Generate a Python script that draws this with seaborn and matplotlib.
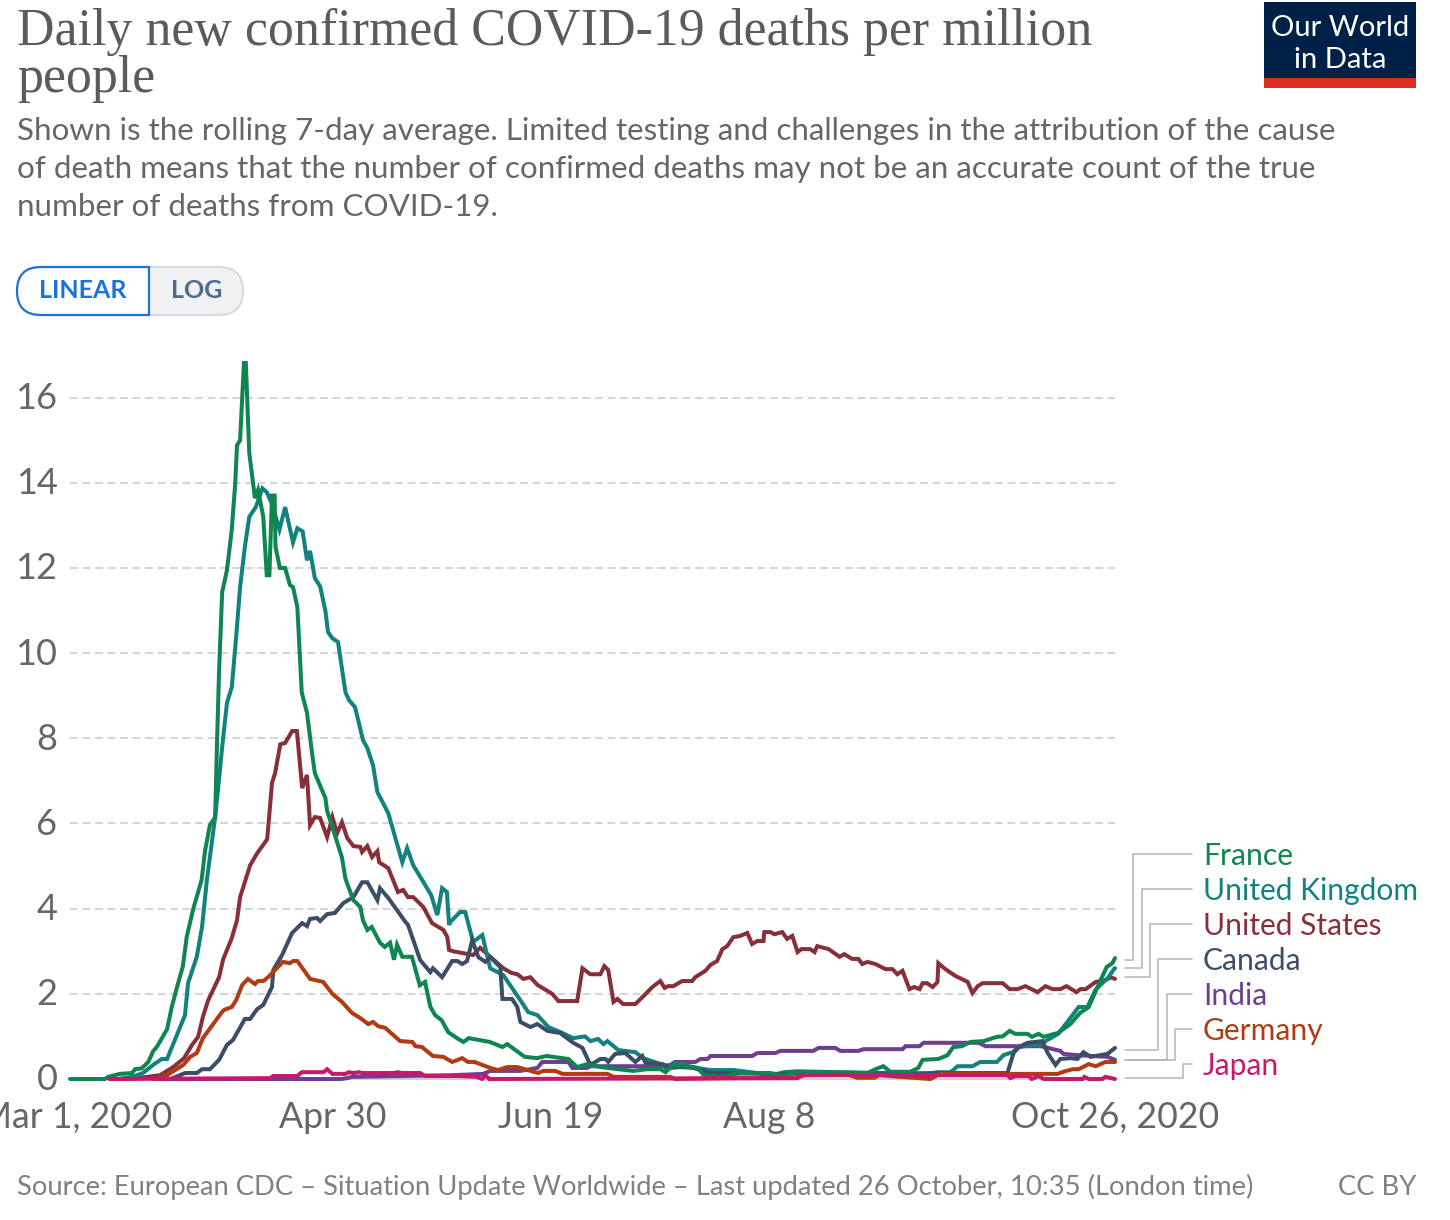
#!/usr/bin/env python3
"""Daily new confirmed COVID-19 deaths per million people (Our World in Data style)."""

import matplotlib

matplotlib.use("Agg")

import matplotlib.pyplot as plt
import matplotlib.transforms as mtrans
import pandas as pd
import seaborn as sns
from matplotlib.patches import FancyBboxPatch, PathPatch, Rectangle
from matplotlib.path import Path

# days since Mar 1, 2020 / deaths per million at the line's corners
france_days = [0, 8, 8.7, 11.4, 14.2, 14.9, 16.4, 17.9, 19, 19.9, 22.2, 23.3, 24.4, 25.8, 26.7, 28.2, 30.1, 30.9, 32, 33.2, 33.6, 34.1, 34.8, 35.9, 37, 37.8, 38.2, 38.9, 39.8, 40.2, 41, 42.3, 43, 44.2, 45, 45.6, 46.2, 46.8, 47, 48, 49.2, 50.3, 51, 52, 53, 54.2, 55.3, 56, 58.4, 58.8, 60.2, 62.2, 63, 64.8, 66.4, 67, 68, 69, 70.9, 72, 73.2, 74.1, 74.8, 76, 78.2, 80, 81.2, 82.4, 83.5, 85, 86.5, 88.8, 90, 91.2, 96, 98.9, 100, 104, 106.8, 109, 114, 116, 118.3, 121.3, 128.8, 132, 135, 136.2, 138, 143.5, 144.9, 148.7, 153.3, 160.2, 163, 164.8, 166.4, 182.4, 184.2, 186, 187.6, 192.2, 194, 195, 198.6, 200.7, 202, 204, 206, 209, 212, 213.3, 214.9, 216.2, 219, 220, 221.5, 222.7, 225.9, 228.8, 231, 233, 235, 237.1, 238.4, 239]
france_vals = [0, 0, 0.05, 0.12, 0.14, 0.23, 0.25, 0.4, 0.65, 0.76, 1.17, 1.7, 2.13, 2.64, 3.34, 4.0, 4.67, 5.37, 5.96, 6.15, 7.8, 9.6, 11.43, 11.95, 12.9, 14.0, 14.88, 15.0, 16.85, 16.85, 14.7, 13.64, 13.83, 13.2, 11.83, 11.83, 13.7, 13.7, 12.5, 12.0, 12.0, 11.6, 11.55, 11.08, 9.08, 8.6, 7.7, 7.18, 6.6, 6.3, 5.85, 5.2, 4.7, 4.2, 4.04, 3.73, 3.5, 3.57, 3.2, 3.1, 3.2, 2.8, 3.15, 2.87, 2.87, 2.2, 2.28, 1.7, 1.5, 1.38, 1.1, 0.94, 0.87, 0.96, 0.87, 0.75, 0.82, 0.52, 0.49, 0.54, 0.47, 0.28, 0.35, 0.28, 0.19, 0.23, 0.23, 0.16, 0.33, 0.26, 0.1, 0.05, 0.14, 0.14, 0.07, 0.14, 0.17, 0.14, 0.23, 0.3, 0.17, 0.17, 0.26, 0.45, 0.47, 0.56, 0.75, 0.77, 0.87, 0.89, 0.99, 1.0, 1.13, 1.06, 1.06, 0.99, 1.06, 0.99, 1.08, 1.29, 1.55, 1.69, 2.16, 2.63, 2.72, 2.84]

uk_days = [11, 14.2, 16.7, 19, 21, 22.2, 24, 26.3, 27, 29, 30.2, 31.3, 33.2, 34.3, 34.8, 35.9, 37, 38, 38.9, 40, 41, 42.5, 44, 45, 46.2, 47.9, 49.2, 51, 52, 53.2, 54.2, 54.9, 56, 57.2, 58.4, 59, 60, 61.3, 63, 63.8, 65.2, 67, 68, 69.3, 70.3, 72.8, 76, 77.1, 78.5, 82.6, 84, 85.1, 86.2, 86.7, 87, 89.2, 90.4, 92.2, 94.3, 96.1, 99.1, 103, 104.8, 106.9, 109.4, 112.6, 115.1, 117.8, 119, 120.8, 122, 122.9, 125.4, 129.3, 131.1, 135.7, 136.6, 138, 143.5, 146.5, 149.4, 151.7, 157.2, 160.9, 163.2, 166, 196, 198.4, 201.4, 203, 206.4, 208.2, 212, 213.5, 215.6, 217, 222, 223.6, 226, 228.1, 230.7, 232.7, 234.5, 236.1, 237.5, 238.9, 239]
uk_vals = [0, 0.05, 0.14, 0.33, 0.47, 0.47, 0.92, 1.5, 2.25, 2.87, 3.57, 4.67, 6.15, 7.25, 7.8, 8.83, 9.2, 10.38, 11.55, 12.5, 13.2, 13.43, 13.87, 13.78, 13.5, 12.9, 13.43, 12.6, 12.93, 12.86, 12.18, 12.4, 11.76, 11.57, 11.0, 10.5, 10.35, 10.26, 9.08, 8.9, 8.73, 7.96, 7.77, 7.37, 6.74, 6.24, 5.09, 5.42, 5.02, 4.32, 3.85, 4.48, 4.39, 3.62, 3.69, 3.92, 3.92, 3.22, 3.38, 2.6, 2.44, 1.85, 1.57, 1.5, 1.22, 1.08, 0.96, 1.0, 0.89, 0.94, 0.82, 0.89, 0.68, 0.63, 0.49, 0.33, 0.21, 0.38, 0.26, 0.21, 0.21, 0.21, 0.14, 0.09, 0.16, 0.18, 0.12, 0.16, 0.16, 0.3, 0.3, 0.4, 0.4, 0.56, 0.63, 0.75, 0.82, 0.92, 1.06, 1.34, 1.69, 1.69, 2.09, 2.25, 2.39, 2.6, 2.6]

us_days = [14, 20.6, 23.6, 26.1, 27.9, 29.3, 30.4, 31.6, 34.1, 35, 37, 38.2, 38.9, 41.2, 42.8, 45.1, 46.2, 46.9, 48.1, 49.2, 50.8, 51.9, 53.1, 54.2, 54.9, 56, 57.2, 58.8, 60, 61.1, 62.2, 63.4, 64.8, 66.4, 66.8, 68, 69.1, 70.3, 70.7, 72.8, 75, 76.2, 77.3, 78.5, 80.8, 82.8, 85.4, 86.3, 86.7, 87.6, 92.2, 93.8, 99.1, 101, 102.3, 103.7, 105.3, 106.9, 110.3, 111.7, 116, 117.2, 119, 121.3, 122.2, 123.1, 124.3, 125.2, 126.5, 129.3, 130.9, 133.2, 135, 136, 136.8, 138, 140, 142.3, 143, 145.3, 146.5, 148, 149.2, 150.3, 151.7, 153.3, 154.9, 156, 157.2, 158.6, 158.8, 160.2, 161.1, 162.9, 164, 165.2, 166.4, 167.3, 169.3, 170.3, 170.9, 173.5, 176, 177.1, 178.9, 180.3, 181.2, 182.4, 184.2, 186.5, 188.1, 189.2, 190.4, 192, 193.1, 194.3, 195, 196, 197.3, 198.4, 198.6, 200.2, 202.5, 205.3, 206.4, 207.6, 208.7, 213.3, 214.9, 216.7, 218.5, 221.3, 223.1, 224.7, 226.5, 227.9, 230.2, 231.1, 232.3, 234.6, 236.8, 238, 239]
us_vals = [0, 0.09, 0.28, 0.49, 0.8, 0.99, 1.46, 1.85, 2.39, 2.8, 3.31, 3.73, 4.27, 5.02, 5.3, 5.63, 6.95, 7.18, 7.86, 7.89, 8.17, 8.17, 6.83, 7.14, 5.96, 6.15, 6.13, 5.68, 6.15, 5.77, 6.03, 5.66, 5.47, 5.45, 5.33, 5.47, 5.21, 5.35, 5.09, 4.95, 4.39, 4.44, 4.27, 4.27, 4.04, 3.66, 3.5, 3.33, 3.03, 3.0, 2.91, 3.08, 2.6, 2.49, 2.46, 2.35, 2.39, 2.21, 2.0, 1.83, 1.83, 2.6, 2.46, 2.46, 2.65, 2.56, 1.81, 1.88, 1.76, 1.76, 1.92, 2.16, 2.3, 2.14, 2.18, 2.18, 2.3, 2.3, 2.39, 2.54, 2.68, 2.77, 3.05, 3.12, 3.33, 3.36, 3.43, 3.17, 3.24, 3.24, 3.45, 3.45, 3.4, 3.45, 3.29, 3.36, 2.98, 3.05, 3.05, 2.98, 3.12, 3.05, 2.87, 2.93, 2.82, 2.82, 2.7, 2.75, 2.7, 2.58, 2.58, 2.46, 2.54, 2.11, 2.16, 2.11, 2.25, 2.25, 2.16, 2.28, 2.72, 2.58, 2.42, 2.28, 2.02, 2.18, 2.25, 2.25, 2.11, 2.11, 2.18, 2.04, 2.18, 2.11, 2.11, 2.18, 2.04, 2.11, 2.11, 2.28, 2.32, 2.39, 2.35]

canada_days = [23, 26.3, 29, 30.2, 32, 34.1, 35.9, 37.3, 40, 41.2, 42.8, 44.2, 46.2, 46.5, 48.5, 50.8, 53.1, 54.2, 54.9, 56.5, 57.2, 58.8, 60.6, 62.5, 64.8, 66.8, 68, 70.3, 70.9, 72.8, 76.7, 77.3, 80.1, 82.4, 83, 85.1, 87.4, 88.6, 89.7, 90.8, 92, 93.4, 95, 96.1, 98.4, 98.9, 101.1, 102.3, 103, 105.3, 106.9, 109.2, 112.1, 115.1, 117.2, 118.8, 119.4, 121.3, 122.5, 123.1, 124.7, 127, 129.3, 130.9, 131.6, 135.5, 137.3, 139.6, 142.6, 145.8, 147.1, 160, 203.7, 214.4, 215.8, 217, 219, 222.4, 223.6, 225.4, 226.5, 228.8, 230.4, 231.8, 233.4, 237.3, 239]
canada_vals = [0, 0.14, 0.14, 0.23, 0.23, 0.45, 0.8, 0.92, 1.41, 1.41, 1.64, 1.74, 2.16, 2.56, 2.91, 3.43, 3.66, 3.59, 3.76, 3.78, 3.71, 3.87, 3.9, 4.13, 4.27, 4.62, 4.62, 4.2, 4.48, 4.25, 3.69, 3.62, 2.79, 2.51, 2.6, 2.39, 2.77, 2.77, 2.7, 2.77, 3.26, 2.86, 2.75, 2.86, 2.63, 1.88, 1.88, 1.69, 1.34, 1.22, 1.29, 1.13, 1.08, 0.85, 0.73, 0.38, 0.35, 0.47, 0.47, 0.4, 0.59, 0.61, 0.4, 0.54, 0.38, 0.35, 0.26, 0.28, 0.26, 0.16, 0.14, 0.12, 0.14, 0.14, 0.61, 0.75, 0.85, 0.89, 0.61, 0.33, 0.47, 0.49, 0.47, 0.63, 0.52, 0.59, 0.73]

india_days = [20, 62, 63.4, 64.5, 87.6, 94.5, 96.1, 103, 106.9, 108, 114, 114.9, 118.3, 119, 135, 137.3, 138.4, 143, 144.2, 145.8, 146.5, 156, 157.2, 161.3, 162.5, 170, 171.2, 175, 176.2, 180.3, 181.5, 190.4, 191.1, 194.3, 195.2, 207.8, 209.4, 222, 226.5, 227.2, 230.4, 237.3, 239]
india_vals = [0, 0, 0.02, 0.05, 0.09, 0.12, 0.19, 0.19, 0.26, 0.4, 0.4, 0.26, 0.26, 0.3, 0.3, 0.33, 0.4, 0.4, 0.47, 0.47, 0.54, 0.54, 0.61, 0.61, 0.66, 0.66, 0.73, 0.73, 0.66, 0.66, 0.7, 0.7, 0.77, 0.77, 0.85, 0.85, 0.77, 0.77, 0.66, 0.59, 0.56, 0.52, 0.45]

germany_days = [19, 22.2, 25.9, 27.5, 29, 30.4, 34.6, 35.2, 37, 38, 39.4, 40.7, 42.3, 43, 44.2, 45.3, 46.9, 48.7, 50.3, 51, 52, 54.9, 57.9, 60, 62.2, 64.5, 66.4, 68.2, 69.3, 70.5, 72.1, 75.5, 78.3, 79, 80.5, 83, 85.4, 87.4, 89.7, 91, 92.5, 96.1, 97.9, 100, 102.3, 106.4, 107.1, 108.2, 111, 112.6, 122.9, 124.3, 137.3, 138.4, 150, 166, 168, 178, 180, 184, 185, 190, 196.8, 199, 225.9, 227.2, 229.3, 230.7, 233, 234.6, 236.8, 239]
germany_vals = [0, 0.09, 0.33, 0.52, 0.61, 0.96, 1.55, 1.62, 1.69, 1.85, 2.21, 2.35, 2.23, 2.3, 2.3, 2.39, 2.56, 2.75, 2.72, 2.77, 2.77, 2.35, 2.28, 2.0, 1.81, 1.55, 1.43, 1.29, 1.34, 1.24, 1.2, 0.89, 0.87, 0.77, 0.75, 0.54, 0.52, 0.4, 0.49, 0.4, 0.4, 0.26, 0.21, 0.28, 0.28, 0.16, 0.14, 0.19, 0.19, 0.12, 0.12, 0.05, 0.05, 0, 0.02, 0.02, 0.09, 0.1, 0.03, 0.03, 0.09, 0.05, 0, 0.12, 0.12, 0.17, 0.23, 0.23, 0.35, 0.3, 0.4, 0.4]

japan_days = [9, 45.8, 46.5, 52, 53, 58, 58.8, 60, 63, 63.8, 64.8, 66.1, 66.8, 74.4, 74.8, 76, 80.1, 81.2, 89.2, 93, 94.3, 95, 95.9, 162.5, 166.4, 167, 184.7, 214.4, 215.1, 216.2, 219.2, 220, 221.5, 222.7, 231.6, 232, 233, 236.1, 236.8, 239]
japan_vals = [0, 0.02, 0.07, 0.07, 0.16, 0.16, 0.23, 0.12, 0.12, 0.16, 0.14, 0.16, 0.14, 0.14, 0.16, 0.14, 0.14, 0.07, 0.07, 0.05, 0, 0.09, 0, 0.02, 0.02, 0.09, 0.09, 0.09, 0.02, 0.07, 0.07, 0, 0.07, 0, 0, 0.05, 0, 0, 0.05, 0]

countries = ["France", "United Kingdom", "United States", "Canada", "India", "Germany", "Japan"]
draw_order = ["India", "United States", "United Kingdom", "Canada", "France", "Germany", "Japan"]
colors = ["#0f8550", "#12827f", "#883039", "#3c4e66", "#6d3e91", "#b13c14", "#c8186e"]
series_days = [france_days, uk_days, us_days, canada_days, india_days, germany_days, japan_days]
series_vals = [france_vals, uk_vals, us_vals, canada_vals, india_vals, germany_vals, japan_vals]

y_ticks = [0, 2, 4, 6, 8, 10, 12, 14, 16]
x_ticks = [0, 60, 110, 160, 239]
x_labels = ["Mar 1, 2020", "Apr 30", "Jun 19", "Aug 8", "Oct 26, 2020"]

# where each series' label sits: line end y, label y (pixels), elbow x
leader_ys = [(960, 854, 1133), (968, 889, 1142), (977, 924, 1150), (1050, 959, 1158),
             (1060, 994, 1167), (1060, 1029, 1175), (1078, 1064, 1183)]

W, H = 1450, 1220
GRAY = "#5b5b5b"
TEXT = "#666666"

sns.set_theme(style="white")
plt.rcParams["font.family"] = ["Lato", "DejaVu Sans"]

frames = [pd.DataFrame({"country": c, "day": d, "value": v})
          for c, d, v in zip(countries, series_days, series_vals)]
df = pd.concat(frames, ignore_index=True)

fig = plt.figure(figsize=(W / 100, H / 100), dpi=100, facecolor="white")

# chart area, 70..1115 across and 361..1079 down
ax = fig.add_axes([70 / W, 1 - 1079 / H, (1115 - 70) / W, (1079 - 361) / H])
sns.lineplot(
    data=df, x="day", y="value", hue="country", hue_order=draw_order,
    palette=dict(zip(countries, colors)), estimator=None, sort=False,
    linewidth=2.9, legend=False, ax=ax,
)
ax.set_xlim(0, 239)
ax.set_ylim(0, 16.86)

# clip only at the top: the lines lying on zero keep their full width
clip = mtrans.TransformedBbox(mtrans.Bbox([[-1, -0.2], [240, 16.86]]), ax.transData)
for line in ax.get_lines():
    line.set_clip_box(clip)
    line.set_solid_joinstyle("miter")
    line.set_zorder(4)

ax.set_xlabel("")
ax.set_ylabel("")
ax.set_yticks(y_ticks)
ax.set_xticks(x_ticks)
ax.set_xticklabels(x_labels)
ax.tick_params(axis="y", length=0, pad=9, labelsize=26, labelcolor=TEXT)
ax.tick_params(axis="x", length=7, width=1.5, color="#d0d0d0", pad=9, labelsize=25.7, labelcolor=TEXT)
ax.set_axisbelow(True)
ax.grid(axis="y", color="#d5d5d5", linewidth=1.5, linestyle=(0, (3.8, 2.2)))
ax.grid(axis="x", visible=False)
sns.despine(ax=ax, left=True)
ax.spines["bottom"].set_color("#d0d0d0")
ax.spines["bottom"].set_linewidth(1.5)

# y labels sit a little above their gridlines, the first x label a little to the right
up = mtrans.ScaledTranslation(0, 2 / 100, fig.dpi_scale_trans)
for label in ax.get_yticklabels():
    label.set_transform(label.get_transform() + up)
right = mtrans.ScaledTranslation(6 / 100, 0, fig.dpi_scale_trans)
first = ax.get_xticklabels()[0]
first.set_transform(first.get_transform() + right)

# everything around the chart is placed in pixels
top = fig.add_axes([0, 0, 1, 1], zorder=5)
top.set_xlim(0, W)
top.set_ylim(H, 0)
top.axis("off")
top.patch.set_alpha(0)

title_font = ["Liberation Serif", "DejaVu Serif"]
top.text(17, 45, "Daily new confirmed COVID-19 deaths per million", family=title_font,
         fontsize=37.4, color=GRAY, va="baseline")
top.text(17, 92, "people", family=title_font, fontsize=37.4, color=GRAY, va="baseline")

subtitle = [
    "Shown is the rolling 7-day average. Limited testing and challenges in the attribution of the cause",
    "of death means that the number of confirmed deaths may not be an accurate count of the true",
    "number of deaths from COVID-19.",
]
for y, line in zip([140, 178, 216], subtitle):
    top.text(17, y, line, fontsize=22.55, color=TEXT, va="baseline")

# logo
top.add_patch(Rectangle((1264, 2), 152, 86, facecolor="#002147", edgecolor="none"))
top.add_patch(Rectangle((1264, 78), 152, 10, facecolor="#dc2e1c", edgecolor="none"))
top.text(1340, 28, "Our World", color="white", fontsize=21, ha="center", va="center")
top.text(1340, 60, "in Data", color="white", fontsize=21, ha="center", va="center")

# LINEAR / LOG toggle
top.add_patch(FancyBboxPatch((17, 267), 226, 48, boxstyle="round,pad=0,rounding_size=24",
                             facecolor="#f0f1f3", edgecolor="#d6d8dc", linewidth=1.5))
toggle = Path(
    [(149, 267), (41, 267), (17, 267), (17, 291), (17, 315), (41, 315), (149, 315), (149, 267)],
    [Path.MOVETO, Path.LINETO, Path.CURVE3, Path.CURVE3, Path.CURVE3, Path.CURVE3, Path.LINETO, Path.CLOSEPOLY],
)
top.add_patch(PathPatch(toggle, facecolor="white", edgecolor="#1a73d9", linewidth=1.6))
top.text(83, 291, "LINEAR", color="#1a73d9", fontsize=18, fontweight="bold", ha="center", va="center")
top.text(197, 291, "LOG", color="#4f6a8f", fontsize=18, fontweight="bold", ha="center", va="center")

# series labels with their elbow leaders
for name, color, (y0, y1, xm) in zip(countries, colors, leader_ys):
    top.plot([1125, xm, xm, 1192], [y0, y0, y1, y1], color="#b5b5b5", linewidth=1.1, solid_joinstyle="miter")
    top.text(1203, y1 + 2, name, color=color, fontsize=21.6, ha="left", va="center")

top.text(17, 1195, "Source: European CDC – Situation Update Worldwide – Last updated 26 October, 10:35 (London time)",
         fontsize=19.75, color="#808080", va="baseline")
top.text(1416, 1195, "CC BY", fontsize=19.75, color="#808080", ha="right", va="baseline")

fig.savefig("out.png", dpi=100, facecolor="white")
